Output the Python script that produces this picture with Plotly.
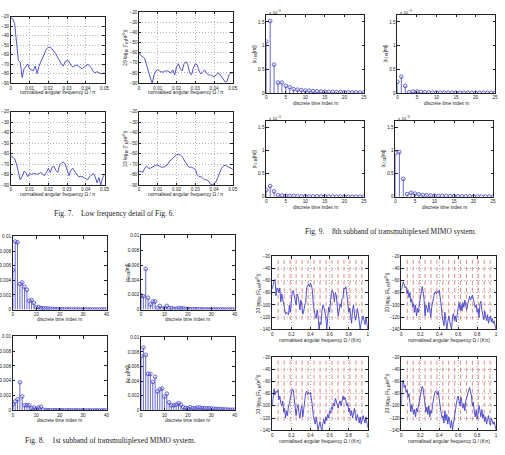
import plotly.graph_objects as go

W, H = 505, 455

# ---------------- Fig. 7 data (low-frequency detail) ----------------
f7 = [i / 1000 for i in range(51)]
g00 = [-21, -22, -27, -45, -66, -68, -84, -75, -73, -70, -75, -76, -77, -72, -80, -72, -67, -62, -58, -54,
       -52, -52, -54, -56, -59, -63, -67, -70, -72, -67, -66, -67, -71, -73, -72, -71, -72, -74, -75, -73,
       -72, -70, -72, -74, -78, -79, -78, -79, -80, -80, -79]
g01 = [-60, -63, -64, -66, -72, -80, -85, -90, -82, -78, -77, -78, -79, -79, -78, -78, -79, -80, -77, -82,
       -74, -71, -76, -78, -71, -69, -72, -80, -82, -75, -71, -72, -78, -81, -79, -77, -80, -82, -82, -83,
       -84, -82, -80, -81, -84, -86, -89, -88, -82, -80, -80]
g10 = [-62, -64, -65, -70, -78, -85, -82, -77, -78, -82, -79, -80, -79, -79, -80, -79, -78, -80, -81, -78,
       -74, -78, -73, -72, -76, -78, -71, -69, -68, -70, -76, -81, -76, -74, -77, -80, -82, -82, -82, -83,
       -84, -85, -82, -80, -79, -82, -88, -83, -90, -83, -80]
g11 = [-77, -77, -78, -74, -72, -74, -74, -73, -72, -71, -71, -72, -73, -73, -72, -71, -68, -66, -64, -62,
       -61, -61, -61, -63, -66, -70, -72, -73, -73, -74, -75, -80, -82, -82, -84, -85, -85, -86, -89, -90,
       -89, -87, -83, -78, -74, -72, -71, -72, -73, -74, -75]

# ---------------- Fig. 8 data (1st subband) ----------------
m8 = list(range(41))
c0_00 = [0.0054, 0.0093, 0.0092, 0.0035, 0.0037, 0.0031, 0.0027, 0.0012, 0.0013, 0.0009,
         0.0003, 0.00035, 0.0002, 0.0002, 0.00015, 0.00015, 0.0001, 0.0001, 0.00006, 0.00005,
         0.00004, 0.00004, 0.00003, 0.00003, 0.00003, 0.00003, 0.00002, 0.00002, 0.00002, 0.00002,
         0.00002, 0.00002, 0.00002, 0.00001, 0.00001, 0.00001, 0.00001, 0.00001, 0.00001, 0.00001, 0.00001]
c0_01 = [0.0019, 0.0018, 0.0055, 0.0016, 0.0007, 0.0011, 0.0011, 0.0002, 0.0005, 0.0001,
         0.0002, 0.0005, 0.0002, 0.0002, 0.0001, 0.0001, 0.0002, 0.0002, 0.00015, 0.0001,
         0.00008, 0.00006, 0.00005, 0.00005, 0.00004, 0.00004, 0.00003, 0.00003, 0.00003, 0.00003,
         0.00002, 0.00002, 0.00002, 0.00002, 0.00002, 0.00001, 0.00001, 0.00001, 0.00001, 0.00001, 0.00001]
c0_10 = [0.0008, 0.0012, 0.0015, 0.0038, 0.0019, 0.0007, 0.0007, 0.0007, 0.0003, 0.0004,
         0.0002, 0.0004, 0.0005, 0.0001, 0.00004, 0.00004, 0.00003, 0.00003, 0.00003, 0.00003,
         0.00003, 0.00002, 0.00002, 0.00002, 0.00002, 0.00002, 0.00002, 0.00002, 0.00002, 0.00001,
         0.00001, 0.00001, 0.00001, 0.00001, 0.00001, 0.00001, 0.00001, 0.00001, 0.00001, 0.00001, 0.00001]
c0_11 = [0.0074, 0.0086, 0.0076, 0.005, 0.005, 0.0039, 0.0046, 0.0026, 0.0029, 0.003,
         0.0019, 0.0023, 0.0011, 0.0007, 0.0007, 0.0008, 0.001, 0.0008, 0.00045, 0.00035,
         0.0003, 0.00045, 0.0003, 0.0003, 0.0004, 0.0004, 0.00035, 0.0003, 0.0003, 0.0003,
         0.00025, 0.00025, 0.0002, 0.0002, 0.00018, 0.00015, 0.00015, 0.00012, 0.0001, 0.0001, 0.0001]

# ---------------- Fig. 9 data (8th subband, units of 1e-3) ----------------
m9 = list(range(26))
c7_00 = [1.085, 1.52, 0.60, 0.22, 0.22, 0.15, 0.12, 0.08, 0.07, 0.06, 0.05, 0.05, 0.04, 0.035,
         0.03, 0.03, 0.025, 0.025, 0.02, 0.02, 0.018, 0.015, 0.015, 0.012, 0.01, 0.01]
c7_01 = [0.235, 0.345, 0.15, 0.015, 0.03, 0.03, 0.02, 0.015, 0.012, 0.01, 0.01, 0.01, 0.008, 0.008,
         0.008, 0.006, 0.006, 0.006, 0.005, 0.005, 0.005, 0.004, 0.004, 0.004, 0.003, 0.003]
c7_10 = [0.15, 0.235, 0.12, 0.035, 0.03, 0.025, 0.02, 0.018, 0.015, 0.012, 0.012, 0.01, 0.01, 0.01,
         0.008, 0.008, 0.008, 0.006, 0.006, 0.006, 0.005, 0.005, 0.004, 0.004, 0.004, 0.003]
c7_11 = [0.945, 0.97, 0.39, 0.06, 0.09, 0.07, 0.055, 0.04, 0.035, 0.03, 0.025, 0.02, 0.02, 0.018,
         0.015, 0.015, 0.012, 0.012, 0.01, 0.01, 0.008, 0.008, 0.007, 0.006, 0.006, 0.005]

# ---------------- Residual responses R_k ----------------
fk = [i / 100 for i in range(101)]
r00 = [-74, -66, -60, -58, -85, -72, -74, -80, -72, -95, -82, -90, -100, -110, -115, -112, -113, -116, -100, -112,
       -88, -78, -76, -84, -98, -100, -82, -86, -95, -108, -92, -100, -115, -110, -100, -96, -72, -68, -66, -70,
       -64, -68, -76, -100, -112, -118, -122, -108, -118, -140, -128, -132, -110, -100, -104, -112, -118, -140, -125, -104,
       -112, -92, -78, -76, -82, -95, -80, -84, -100, -118, -110, -98, -104, -90, -88, -72, -74, -70, -82, -100,
       -112, -105, -120, -130, -108, -100, -115, -125, -118, -106, -114, -125, -140, -130, -122, -118, -125, -132, -120, -130, -140]
r01 = [-76, -68, -62, -66, -72, -70, -82, -76, -88, -80, -96, -90, -104, -98, -112, -100, -118, -106, -112, -98,
       -86, -74, -70, -78, -92, -118, -100, -106, -112, -96, -108, -120, -104, -96, -84, -80, -78, -82, -78, -80,
       -76, -86, -100, -118, -124, -134, -112, -122, -140, -128, -118, -126, -132, -140, -120, -114, -126, -118, -128, -112,
       -104, -96, -108, -100, -110, -96, -104, -92, -98, -108, -100, -94, -86, -92, -88, -84, -90, -98, -104, -100,
       -112, -106, -120, -98, -94, -108, -114, -124, -110, -120, -126, -116, -130, -122, -118, -128, -122, -130, -126, -134, -140]
r10 = [-100, -80, -72, -82, -76, -78, -74, -90, -84, -96, -100, -92, -110, -104, -120, -108, -116, -100, -96, -88,
       -80, -72, -74, -86, -100, -116, -104, -98, -112, -120, -106, -100, -118, -104, -96, -80, -76, -82, -78, -80,
       -78, -88, -100, -116, -124, -130, -118, -126, -140, -132, -126, -136, -140, -128, -122, -130, -118, -124, -114, -120,
       -108, -112, -102, -106, -96, -100, -88, -92, -98, -104, -96, -92, -100, -88, -84, -90, -86, -92, -100, -96,
       -110, -104, -116, -108, -120, -112, -104, -116, -124, -114, -120, -128, -118, -130, -124, -116, -122, -128, -118, -126, -136]
r11 = [-100, -62, -58, -70, -66, -78, -74, -86, -80, -96, -110, -98, -104, -114, -106, -118, -104, -110, -100, -92,
       -80, -70, -68, -72, -88, -96, -110, -102, -114, -100, -118, -108, -112, -98, -84, -80, -76, -78, -82, -76,
       -90, -104, -112, -120, -116, -128, -108, -124, -114, -130, -118, -126, -136, -124, -140, -128, -120, -112, -98, -88,
       -84, -92, -100, -86, -96, -104, -96, -108, -92, -86, -80, -72, -70, -76, -84, -100, -94, -110, -118, -106,
       -122, -112, -100, -108, -118, -106, -120, -114, -126, -118, -130, -122, -116, -126, -132, -120, -124, -130, -126, -134, -140]
subband_edges = [0.0625, 0.125, 0.1875, 0.25, 0.3125, 0.375, 0.4375, 0.5,
                 0.5625, 0.625, 0.6875, 0.75, 0.8125, 0.875, 0.9375]
edge_span = [-26, -127]

BLUE = '#4040cc'
RED = '#e06868'
INK = '#222222'
SANS = 'Liberation Sans'
SERIF = 'Liberation Serif'

fig = go.Figure()
layout = dict(width=W, height=H, autosize=False, margin=dict(l=0, r=0, t=0, b=0),
              paper_bgcolor='white', plot_bgcolor='white', showlegend=False)
annotations = []
shapes = []


def add_axes(i, box, xr, yr, xdt, ydt, grid):
    x0, x1, t, b = box
    nm = '' if i == 1 else str(i)
    common = dict(showline=True, mirror='ticks', linecolor=INK, linewidth=0.8,
                  ticks='inside', ticklen=2.5, tickwidth=0.6, tickcolor=INK,
                  tickfont=dict(family=SANS, size=4.6, color=INK), zeroline=False,
                  showgrid=grid, gridcolor='#b4b4b4', gridwidth=0.5, griddash='1px,2px')
    layout['xaxis' + nm] = dict(domain=[x0 / W, x1 / W], anchor='y' + nm, range=xr,
                                dtick=xdt, tick0=0, **common)
    layout['yaxis' + nm] = dict(domain=[1 - b / H, 1 - t / H], anchor='x' + nm, range=yr,
                                dtick=ydt, tick0=0, **common)
    return 'x' + nm, 'y' + nm


def text(x, y, s, size=4.8, angle=0, font=SANS, xanchor='center'):
    annotations.append(dict(x=x / W, y=1 - y / H, xref='paper', yref='paper', text=s,
                            showarrow=False, textangle=angle, xanchor=xanchor, yanchor='middle',
                            font=dict(family=font, size=size, color=INK)))


def line_plot(i, box, x, y, xr, yr, xdt, ydt):
    xa, ya = add_axes(i, box, xr, yr, xdt, ydt, True)
    fig.add_trace(go.Scatter(x=x, y=y, mode='lines', line=dict(color=BLUE, width=0.9),
                             xaxis=xa, yaxis=ya, hoverinfo='skip'))
    return xa, ya


def stem_plot(i, box, m, v, xr, yr, xdt, ydt):
    xa, ya = add_axes(i, box, xr, yr, xdt, ydt, False)
    sx, sy = [], []
    for mm, vv in zip(m, v):
        sx += [mm, mm, None]
        sy += [0, vv, None]
    fig.add_trace(go.Scatter(x=sx, y=sy, mode='lines', line=dict(color=BLUE, width=0.8),
                             xaxis=xa, yaxis=ya, hoverinfo='skip'))
    fig.add_trace(go.Scatter(x=m, y=v, mode='markers',
                             marker=dict(symbol='circle-open', size=3.6, color=BLUE, line=dict(width=0.8)),
                             xaxis=xa, yaxis=ya, hoverinfo='skip'))
    return xa, ya


# ---------- Fig. 7 ----------
fig7_boxes = [(9, 104, 15, 82), (139, 234, 10, 82), (9, 104, 111, 185), (139, 234, 111, 185)]
fig7_data = [g00, g01, g10, g11]
fig7_labels = [None, '20 log<sub>10</sub> |Γ<sub>01</sub>(e<sup>jΩ</sup>)|',
               None, '20 log<sub>10</sub> |Γ<sub>11</sub>(e<sup>jΩ</sup>)|']
for k in range(4):
    box = fig7_boxes[k]
    line_plot(1 + k, box, f7, fig7_data[k], [0, 0.05], [-90, -20], 0.01, 10)
    text((box[0] + box[1]) / 2, box[3] + 10, 'normalised angular frequency Ω / π')
    if fig7_labels[k]:
        text(box[0] - 14, (box[2] + box[3]) / 2, fig7_labels[k], angle=-90)
text(114, 214, 'Fig. 7.\u00a0\u00a0\u00a0\u00a0Low frequency detail of Fig. 6.', size=7.5, font=SERIF)

# ---------- Fig. 8 ----------
fig8_boxes = [(11, 106, 237, 311), (141, 236, 236, 311), (11, 106, 338, 413), (141, 236, 339, 413)]
fig8_data = [c0_00, c0_01, c0_10, c0_11]
fig8_labels = [None, '|c<sub>0,01</sub>[m]|', None, '|c<sub>0,11</sub>[m]|']
for k in range(4):
    box = fig8_boxes[k]
    stem_plot(5 + k, box, m8, fig8_data[k], [0, 40], [0, 0.01], 10, 0.002)
    text((box[0] + box[1]) / 2, box[3] + 10, 'discrete time index m')
    if fig8_labels[k]:
        text(box[0] - 13, (box[2] + box[3]) / 2, fig8_labels[k], angle=-90)
text(110, 443, 'Fig. 8.\u00a0\u00a0\u00a0\u00a01st subband of transmultiplexed MIMO system.', size=7.5, font=SERIF)

# ---------- Fig. 9 ----------
fig9_boxes = [(268, 367, 13, 92), (401, 500, 13, 92), (268, 367, 120, 197), (399, 498, 120, 197)]
fig9_data = [c7_00, c7_01, c7_10, c7_11]
fig9_labels = ['|c<sub>7,00</sub>[m]|', '|c<sub>7,01</sub>[m]|', '|c<sub>7,10</sub>[m]|', '|c<sub>7,11</sub>[m]|']
for k in range(4):
    box = fig9_boxes[k]
    stem_plot(9 + k, box, m9, fig9_data[k], [0, 25], [0, 1.65], 5, 0.5)
    text((box[0] + box[1]) / 2, box[3] + 11, 'discrete time index m')
    text(box[0] - 12, (box[2] + box[3]) / 2, fig9_labels[k], angle=-90)
    text(box[0] + 1, box[2] - 3, 'x 10<sup>−3</sup>', size=4.4, xanchor='left')
text(394, 232, 'Fig. 9.\u00a0\u00a0\u00a0\u00a08th subband of transmultiplexed MIMO system.', size=7.5, font=SERIF)

# ---------- residual responses ----------
figr_boxes = [(274, 371, 257, 331), (405, 501, 257, 331), (274, 371, 359, 433), (405, 501, 359, 433)]
figr_data = [r00, r01, r10, r11]
figr_labels = ['00', '01', '10', '11']
for k in range(4):
    box = figr_boxes[k]
    xa, ya = line_plot(13 + k, box, fk, figr_data[k], [0, 1], [-140, -20], 0.2, 20)
    for e in subband_edges:
        shapes.append(dict(type='line', xref=xa, yref=ya, x0=e, x1=e, y0=edge_span[0], y1=edge_span[1],
                           line=dict(color=RED, width=0.8, dash='4px,3px'), layer='below'))
    text((box[0] + box[1]) / 2, box[3] + 11, 'normalised angular frequency Ω / (Kπ)')
    text(box[0] - 14, (box[2] + box[3]) / 2,
         '20 log<sub>10</sub> |R<sub>k,' + figr_labels[k] + '</sub>(e<sup>jΩ</sup>)|', angle=-90)

layout['annotations'] = annotations
layout['shapes'] = shapes
fig.update_layout(**layout)
fig.write_html('out.html', include_plotlyjs=True, config={'displayModeBar': False})
